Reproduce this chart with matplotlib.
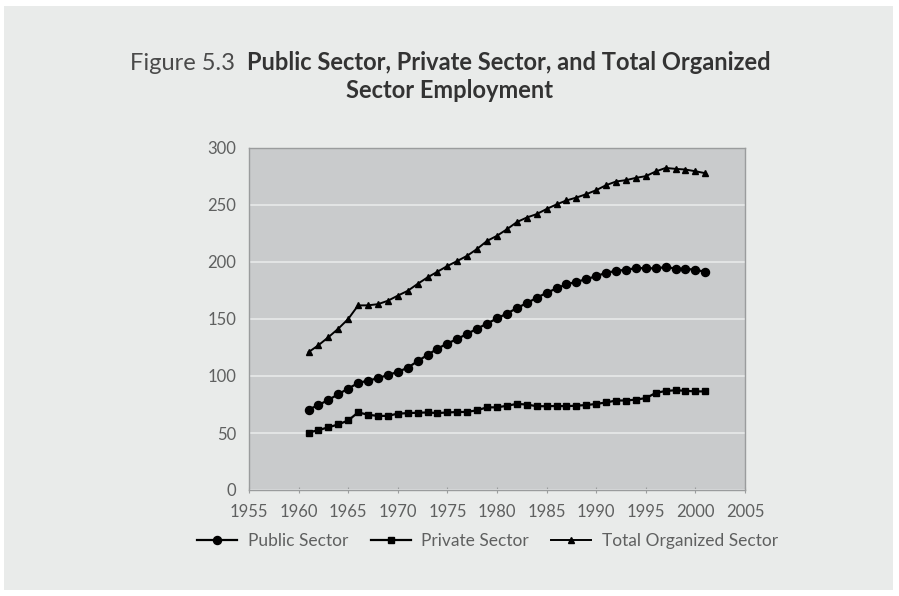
import matplotlib
matplotlib.use("Agg")
import matplotlib.pyplot as plt
from matplotlib.patches import Rectangle

years = list(range(1961, 2002))

public_sector = [70.5, 74.5, 79.0, 84.0, 89.0, 93.8, 96.0, 98.0, 101.0, 103.5,
                 107.3, 113.0, 118.5, 124.0, 128.5, 132.5, 137.0, 141.5, 146.0, 150.5,
                 154.8, 159.5, 164.0, 168.5, 173.0, 176.8, 180.5, 182.5, 185.0, 187.5,
                 190.6, 192.1, 193.3, 194.5, 194.7, 194.3, 195.6, 194.2, 194.1, 193.1,
                 191.4]

private_sector = [50.4, 52.5, 55.0, 57.5, 61.0, 68.1, 66.0, 65.0, 65.0, 67.0,
                  67.4, 67.8, 68.0, 67.5, 68.0, 68.4, 68.5, 70.0, 72.5, 72.5,
                  73.9, 75.5, 75.0, 73.5, 73.5, 73.7, 73.5, 74.0, 74.5, 75.5,
                  76.8, 78.5, 78.5, 79.3, 80.6, 85.1, 86.9, 87.5, 87.0, 86.5,
                  86.5]

total_organized = [120.9, 127.0, 134.0, 141.5, 150.0, 161.9, 162.0, 163.0, 166.0, 170.5,
                   174.7, 180.8, 186.5, 191.5, 196.5, 200.9, 205.5, 211.5, 218.5, 223.0,
                   228.7, 235.0, 239.0, 242.0, 246.5, 250.5, 254.0, 256.5, 259.5, 263.0,
                   267.4, 270.6, 271.8, 273.8, 275.3, 279.4, 282.5, 281.7, 281.1, 279.6,
                   277.9]

x_ticks = list(range(1955, 2006, 5))
y_ticks = [0, 50, 100, 150, 200, 250, 300]

series_names = ["Public Sector", "Private Sector", "Total Organized Sector"]

W, H = 899, 596
fig = plt.figure(figsize=(W / 100, H / 100), dpi=100)
fig.patch.set_facecolor("white")

# light panel behind everything
fig.patches.append(Rectangle((4 / W, 6 / H), 889 / W, 584 / H, transform=fig.transFigure,
                             facecolor="#e9ebea", edgecolor="none", zorder=-10))

FONT = "Lato"
TXT = "#4a4a4a"
LBL = "#5f6060"

left, right, top, bottom = 249, 745, 148, 490
ax = fig.add_axes([left / W, 1 - bottom / H, (right - left) / W, (bottom - top) / H])
ax.set_facecolor("#c9cbcc")

ax.plot(years, public_sector, color="black", lw=1.6, marker="o", ms=5.8,
        label=series_names[0], zorder=3)
ax.plot(years, private_sector, color="black", lw=1.6, marker="s", ms=4.2,
        label=series_names[1], zorder=3)
ax.plot(years, total_organized, color="black", lw=1.4, marker="^", ms=4.0,
        label=series_names[2], zorder=3)

ax.set_xlim(1955, 2005)
ax.set_ylim(0, 300)
ax.set_xticks(x_ticks)
ax.set_yticks(y_ticks)
ax.grid(axis="y", color="#e3e5e5", lw=1.4)
ax.set_axisbelow(True)

for s in ["top", "right", "left", "bottom"]:
    ax.spines[s].set_color("#9a9c9d")
    ax.spines[s].set_linewidth(1.0)

ax.tick_params(axis="both", colors="#9a9c9d", labelcolor=LBL, length=4,
               labelsize=12)
ax.tick_params(axis="x", direction="inout", pad=8)
ax.tick_params(axis="y", length=0, pad=9)
for lab in ax.get_xticklabels() + ax.get_yticklabels():
    lab.set_fontfamily(FONT)

leg = ax.legend(loc="upper center", bbox_to_anchor=(0.481, -0.08), ncol=3,
                frameon=False, handlelength=2.3, columnspacing=1.3,
                handletextpad=0.6, prop={"family": FONT, "size": 12.5})
for t in leg.get_texts():
    t.set_color(LBL)

# two-part title: normal label followed by bold heading
fig.canvas.draw()
r = fig.canvas.get_renderer()
t_size = 17
y1 = 1 - 70 / H
y2 = 1 - 98 / H
p1 = fig.text(0, y1, "Figure 5.3  ", fontsize=t_size, family=FONT, color=TXT,
              va="baseline")
p2 = fig.text(0, y1, "Public Sector, Private Sector, and Total Organized",
              fontsize=t_size, family=FONT, weight="bold", color="#333333", va="baseline")
w1 = p1.get_window_extent(r).width
w2 = p2.get_window_extent(r).width
x0 = (450 - (w1 + w2) / 2)
p1.set_x(x0 / W)
p2.set_x((x0 + w1) / W)
fig.text(450 / W, y2, "Sector Employment", fontsize=t_size, family=FONT,
         weight="bold", color="#333333", ha="center", va="baseline")

fig.savefig("out.png", dpi=100, facecolor=fig.get_facecolor())
